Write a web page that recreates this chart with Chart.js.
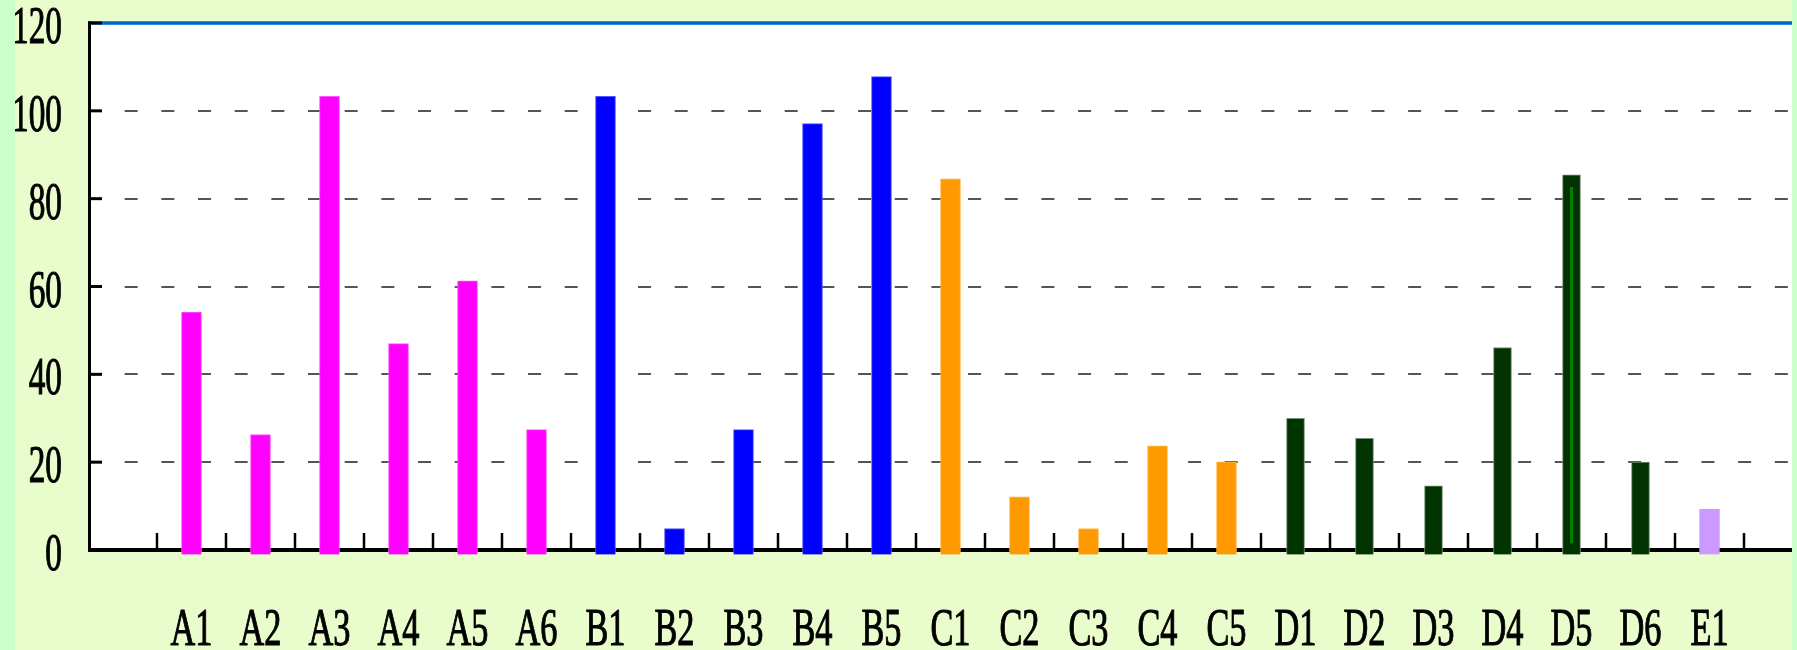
<!DOCTYPE html>
<html>
<head>
<meta charset="utf-8">
<script src="https://cdn.jsdelivr.net/npm/chart.js@4.4.1/dist/chart.umd.min.js"></script>
<style>
    html, body {
        margin: 0;
        padding: 0;
        background: #CCFFCC;
        overflow: hidden;
    }

    #wrap {
        position: absolute;
        left: 15px;
        top: 0;
        width: 1777px;
        height: 650px;
        background: #E8FCCC;
    }
</style>
</head>
<body>
<div id="wrap">
    <canvas id="barChart" width="1777" height="650"></canvas>
</div>

<script>
// ==========================================
// Sample values - bar chart
// ==========================================

const categories = [
    "A1", "A2", "A3", "A4", "A5", "A6",
    "B1", "B2", "B3", "B4", "B5",
    "C1", "C2", "C3", "C4", "C5",
    "D1", "D2", "D3", "D4", "D5", "D6",
    "E1"
];

const valuesA = [54.2, 26.3, 103.3, 47.0, 61.3, 27.4];
const valuesB = [103.3, 4.9, 27.4, 97.1, 107.8];
const valuesC = [84.5, 12.1, 4.9, 23.7, 20.1];
const valuesD = [30.0, 25.4, 14.6, 46.1, 85.4, 20.0];
const valuesE = [9.3];

const yTicks = [0, 20, 40, 60, 80, 100, 120];

// bar that gets the thin inner stripe
const stripedBar = "D5";

const labelFont = "52px 'Liberation Serif', 'Times New Roman', serif";

// one dataset per group, first slot is left empty
function slotData(prefix, values) {
    const data = [null].concat(categories.map(() => null));
    values.forEach((v, i) => {
        data[categories.indexOf(prefix + (i + 1)) + 1] = v;
    });
    return data;
}

function makeDataset(prefix, values, fill, edge, thickness) {
    return {
        label: prefix,
        data: slotData(prefix, values),
        backgroundColor: fill,
        borderColor: edge,
        borderWidth: 1,
        borderSkipped: "start",
        barThickness: thickness,
        grouped: false,
        base: -1,
        clip: false
    };
}

function strokeLine(ctx, x1, y1, x2, y2) {
    ctx.beginPath();
    ctx.moveTo(x1, y1);
    ctx.lineTo(x2, y2);
    ctx.stroke();
}

// narrow serif text, slightly heavier
function narrowText(ctx, text, x, y, squeeze) {
    ctx.save();
    ctx.translate(x, y);
    ctx.scale(squeeze, 1);
    ctx.fillText(text, 0, 0);
    ctx.strokeText(text, 0, 0);
    ctx.restore();
}

const framePlugin = {
    id: "frame",

    beforeDatasetsDraw(chart) {
        const { ctx, chartArea, scales } = chart;
        const left = chartArea.left;
        const top = chartArea.top;
        const bottom = chartArea.bottom;
        const right = chart.width;

        ctx.save();

        // plot background runs to the edge
        ctx.fillStyle = "#FFFFFF";
        ctx.fillRect(left, top, right - left, bottom - top);

        // dashed grid
        ctx.strokeStyle = "#555555";
        ctx.lineWidth = 2;
        ctx.setLineDash([13, 23.67]);
        yTicks.slice(1, -1).forEach(v => {
            const py = Math.round(scales.y.getPixelForValue(v));
            strokeLine(ctx, left, py, right, py);
        });
        ctx.setLineDash([]);

        // top border
        ctx.strokeStyle = "#0066CC";
        ctx.lineWidth = 3.5;
        strokeLine(ctx, left, top, right, top);

        // value axis + inner ticks
        ctx.strokeStyle = "#000000";
        ctx.lineWidth = 3;
        strokeLine(ctx, left + 1.5, top - 1.5, left + 1.5, bottom + 2);
        yTicks.forEach(v => {
            const py = scales.y.getPixelForValue(v);
            strokeLine(ctx, left, py, left + 14, py);
        });

        // category axis
        ctx.lineWidth = 4;
        strokeLine(ctx, left, bottom, right, bottom);

        // tick marks between categories
        ctx.lineWidth = 2.5;
        for (let i = 1; i <= categories.length + 1; i++) {
            const px = scales.x.getPixelForValue(i - 0.5);
            strokeLine(ctx, px, bottom - 17, px, bottom);
        }

        ctx.restore();
    },

    afterDatasetsDraw(chart) {
        const { ctx } = chart;
        const dIndex = chart.data.datasets.findIndex(ds => ds.label === stripedBar[0]);
        const bar = chart.getDatasetMeta(dIndex).data[categories.indexOf(stripedBar) + 1];
        if (!bar) return;

        ctx.save();
        ctx.strokeStyle = "#008000";
        ctx.lineWidth = 3;
        strokeLine(ctx, bar.x, bar.y + 12, bar.x, bar.base - 11);
        ctx.restore();
    },

    afterDraw(chart) {
        const { ctx, scales } = chart;

        ctx.save();
        ctx.fillStyle = "#000000";
        ctx.strokeStyle = "#000000";
        ctx.lineWidth = 1.1;
        ctx.font = labelFont;
        ctx.textBaseline = "alphabetic";

        // value labels
        ctx.textAlign = "right";
        yTicks.forEach(v => {
            const py = scales.y.getPixelForValue(v);
            narrowText(ctx, String(v), 47, py + 20, 0.64);
        });

        // category labels
        ctx.textAlign = "center";
        categories.forEach((name, i) => {
            const px = scales.x.getPixelForValue(i + 1);
            narrowText(ctx, name, px, 645, 0.66);
        });

        ctx.restore();
    }
};

const barChart = new Chart(
    document.getElementById("barChart"),
    {
        type: "bar",

        data: {
            labels: [""].concat(categories),

            datasets: [
                makeDataset("A", valuesA, "#FF00FF", "#FF55FF", 20),
                makeDataset("B", valuesB, "#0000FF", "#5555FF", 20),
                makeDataset("C", valuesC, "#FF9900", "#FFB84D", 20),
                makeDataset("D", valuesD, "#003300", "#7A917A", 18),
                makeDataset("E", valuesE, "#CC99FF", "#CC99FF", 20)
            ]
        },

        options: {
            responsive: false,
            animation: false,

            layout: {
                padding: {
                    left: 73,
                    right: 48,
                    top: 23,
                    bottom: 100
                }
            },

            plugins: {
                legend: {
                    display: false
                },
                tooltip: {
                    enabled: false
                }
            },

            scales: {
                x: {
                    display: false
                },
                y: {
                    display: false,
                    min: 0,
                    max: 120
                }
            }
        },

        plugins: [framePlugin]
    }
);
</script>
</body>
</html>
